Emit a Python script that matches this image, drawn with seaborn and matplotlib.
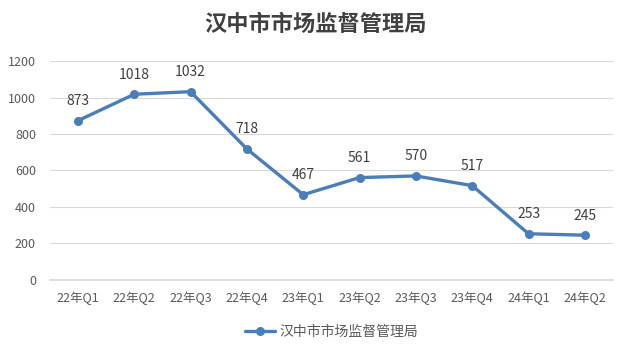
import pandas as pd
import seaborn as sns
import matplotlib.pyplot as plt

# data
quarters = ['22年Q1', '22年Q2', '22年Q3', '22年Q4', '23年Q1',
            '23年Q2', '23年Q3', '23年Q4', '24年Q1', '24年Q2']
counts = [873, 1018, 1032, 718, 467, 561, 570, 517, 253, 245]
series_name = '汉中市市场监督管理局'

sns.set_theme(style='white')
plt.rcParams['font.family'] = ['Noto Sans CJK SC', 'DejaVu Sans']

df = pd.DataFrame({'quarter': quarters, 'count': counts})

line_color = '#4A7EBB'
text_color = '#595959'

fig = plt.figure(figsize=(6.3, 3.57), dpi=100)
ax = fig.add_axes([0.079, 0.216, 0.894, 0.613])

sns.lineplot(data=df, x='quarter', y='count', ax=ax, color=line_color,
             linewidth=2.4, marker='o', markersize=6.5, markeredgewidth=0,
             label=series_name, sort=False)

# data labels above each point
for i, v in enumerate(counts):
    ax.annotate(str(v), (i, v), xytext=(0, 9), textcoords='offset points',
                ha='center', va='bottom', fontsize=10, color='#404040')

ax.set_xlim(-0.5, len(quarters) - 0.5)
ax.set_ylim(0, 1200)
ax.set_yticks(range(0, 1201, 200))
ax.yaxis.grid(True, color='#D9D9D9', linewidth=0.8)
ax.xaxis.grid(False)
for s in ['left', 'right', 'top']:
    ax.spines[s].set_visible(False)
ax.spines['bottom'].set_color('#D9D9D9')
ax.tick_params(axis='both', length=0, labelsize=9, colors=text_color)
ax.tick_params(axis='x', pad=8)
ax.tick_params(axis='y', pad=10)
ax.set_xlabel('')
ax.set_ylabel('')

fig.suptitle(series_name, x=0.5, y=0.965, fontsize=16, fontweight='bold',
             color='#404040')

ax.legend(loc='upper center', bbox_to_anchor=(0.5, -0.15), frameon=False,
          fontsize=10, labelcolor=text_color, handlelength=2.2,
          handletextpad=0.3)

fig.savefig('out.png', dpi=100)
